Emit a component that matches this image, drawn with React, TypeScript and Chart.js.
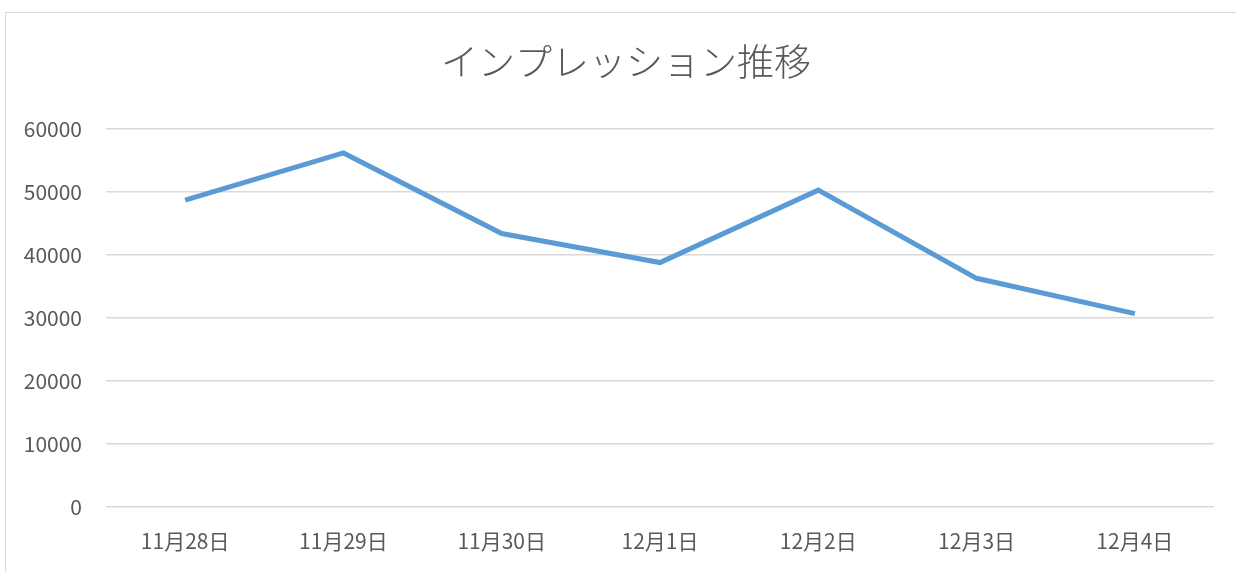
import React, { useEffect, useRef } from "react";
import { Chart, registerables } from "chart.js";

Chart.register(...registerables);

const TITLE = "インプレッション推移";
const categories = ["11月28日", "11月29日", "11月30日", "12月1日", "12月2日", "12月3日", "12月4日"];
const impressions = [48700, 56200, 43400, 38800, 50300, 36300, 30700];
const yMin = 0;
const yMax = 60000;
const yStep = 10000;

const FONT = "'Noto Sans CJK JP', 'Noto Sans', sans-serif";

const titlePlugin = {
  id: "centeredTitle",
  afterDraw(chart: any) {
    const ctx = chart.ctx;
    ctx.save();
    ctx.fillStyle = "#595959";
    ctx.font = `300 37px ${FONT}`;
    ctx.textAlign = "center";
    ctx.textBaseline = "middle";
    ctx.fillText(TITLE, 626, 62);
    ctx.restore();
  },
};

export default function App() {
  const ref = useRef<HTMLCanvasElement | null>(null);

  useEffect(() => {
    if (!ref.current) return;
    const chart = new Chart(ref.current, {
      type: "line",
      data: {
        labels: categories,
        datasets: [
          {
            label: "インプレッション",
            data: impressions,
            borderColor: "#5B9BD5",
            backgroundColor: "#5B9BD5",
            borderWidth: 5,
            pointRadius: 0,
            pointHoverRadius: 0,
            tension: 0,
            borderCapStyle: "butt",
            borderJoinStyle: "miter",
          },
        ],
      },
      plugins: [titlePlugin],
      options: {
        animation: false,
        responsive: false,
        maintainAspectRatio: false,
        layout: { padding: { left: 0, right: 22, top: 129, bottom: 0 } },
        plugins: {
          legend: { display: false },
          tooltip: { enabled: false },
          title: { display: false },
        },
        scales: {
          x: {
            offset: true,
            grid: { display: false, drawTicks: false },
            border: { display: false },
            ticks: {
              color: "#595959",
              font: { family: FONT, size: 21 },
              padding: 21,
              maxRotation: 0,
              autoSkip: false,
            },
            afterFit: (s: any) => {
              s.height = 65;
            },
          },
          y: {
            min: yMin,
            max: yMax,
            grid: { color: "#D9D9D9", lineWidth: 1.5, drawTicks: false },
            border: { display: false },
            ticks: {
              stepSize: yStep,
              color: "#595959",
              font: { family: FONT, size: 21 },
              padding: 24,
              callback: (v: any) => String(v),
            },
            afterFit: (s: any) => {
              s.width = 106;
            },
          },
        },
      },
    });
    return () => chart.destroy();
  }, []);

  return (
    <div style={{ position: "fixed", left: 0, top: 0, width: 1236, height: 572, background: "#fff", overflow: "hidden" }}>
      <div
        style={{
          position: "absolute",
          left: 5,
          top: 12,
          width: 1260,
          height: 600,
          border: "1.5px solid #D9D9D9",
        }}
      />
      <canvas ref={ref} width={1236} height={572} style={{ position: "absolute", left: 0, top: 0 }} />
    </div>
  );
}
